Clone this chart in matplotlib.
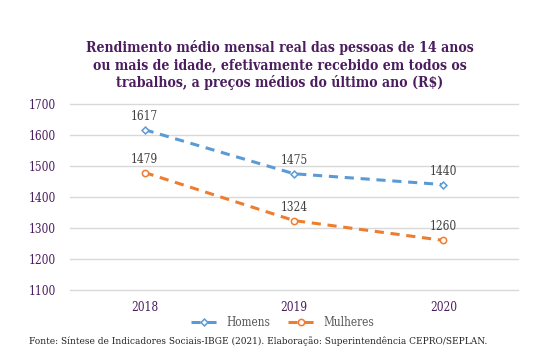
import matplotlib
matplotlib.use("Agg")
import matplotlib.pyplot as plt

anos = ["2018", "2019", "2020"]
homens = [1617, 1475, 1440]
mulheres = [1479, 1324, 1260]
yticks = [1100, 1200, 1300, 1400, 1500, 1600, 1700]

roxo = "#4b1d5e"
azul = "#5b9bd5"
laranja = "#ed7d31"
fonte = "DejaVu Serif"
estreita = "condensed"

fig = plt.figure(figsize=(5.45, 3.55), dpi=100)
ax = fig.add_axes([70/545, 1-290/355, 448/545, 186/355])

x = range(len(anos))
ax.plot(x, homens, color=azul, lw=2.2, ls=(0, (3, 2.2)), marker="D", ms=3.5,
        mfc="white", mec=azul, mew=1.1, label="Homens")
ax.plot(x, mulheres, color=laranja, lw=2.2, ls=(0, (3, 2.2)), marker="o", ms=4.5,
        mfc="white", mec=laranja, mew=1.1, label="Mulheres")

# rotulos de dados acima dos pontos
for serie in (homens, mulheres):
    for i, v in enumerate(serie):
        ax.annotate(str(v), (i, v), xytext=(0, 5), textcoords="offset points",
                    ha="center", va="bottom", fontsize=8.5, color="#404040",
                    family=fonte, stretch=estreita)

ax.set_xlim(-0.5, 2.5)
ax.set_ylim(1100, 1700)
ax.set_yticks(yticks)
ax.set_xticks(list(x))
ax.set_xticklabels(anos)
ax.grid(axis="y", color="#d9d9d9", lw=1)
for g in ax.get_ygridlines():
    g.set_clip_on(False)
ax.set_axisbelow(True)
for s in ax.spines.values():
    s.set_visible(False)
ax.tick_params(length=0, labelsize=8.5, labelcolor=roxo, pad=8)
for t in ax.get_xticklabels() + ax.get_yticklabels():
    t.set_family(fonte)
    t.set_stretch(estreita)
ax.tick_params(axis="y", pad=10)

fig.text(280/545, 1-65/355, "Rendimento médio mensal real das pessoas de 14 anos\n"
         "ou mais de idade, efetivamente recebido em todos os\n"
         "trabalhos, a preços médios do último ano (R$)",
         ha="center", va="center", fontsize=10.1, fontweight="bold", color=roxo,
         family=fonte, stretch=estreita, linespacing=1.25)

leg = fig.legend(loc="center", bbox_to_anchor=(283/545, 1-323/355), ncol=2,
                 frameon=False, handlelength=2.2, columnspacing=1.5,
                 prop={"family": fonte, "size": 8.5, "stretch": estreita})
for t in leg.get_texts():
    t.set_color("#595959")

fig.text(258/545, 1-341/355, "Fonte: Síntese de Indicadores Sociais-IBGE (2021). "
         "Elaboração: Superintendência CEPRO/SEPLAN.",
         ha="center", va="center", fontsize=7.2, color="#222222", family=fonte,
         stretch=estreita)

fig.savefig("out.png", dpi=100)
